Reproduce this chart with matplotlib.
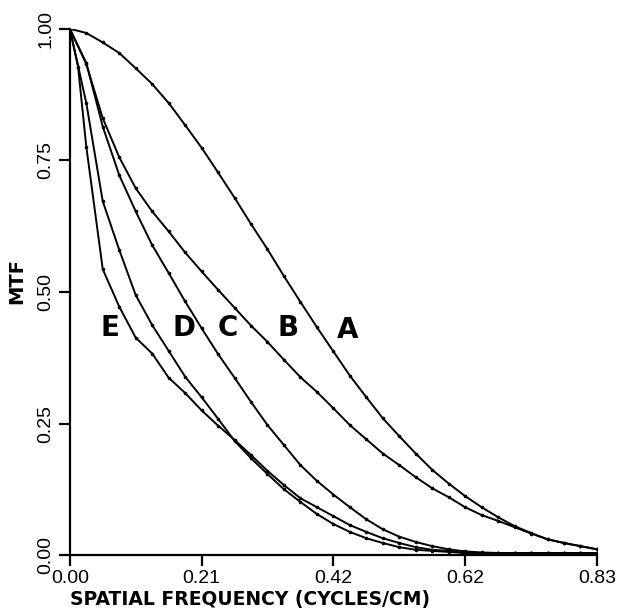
import numpy as np
import matplotlib
matplotlib.use("Agg")
import matplotlib.pyplot as plt

plt.rcParams['font.family'] = ['Liberation Sans Narrow', 'Liberation Sans', 'DejaVu Sans']

# spatial frequency grid (cycles/cm), 33 samples from 0 to 0.83
freq = np.linspace(0.0, 0.83, 33)
step = freq[1] - freq[0]
# curve E has an extra half-step sample near the origin
freq_e = np.concatenate(([0.0, 0.5 * step], freq[1:]))

mtf_a = [1.000, 0.992, 0.974, 0.954, 0.925, 0.895, 0.859, 0.817, 0.774, 0.727,
         0.679, 0.629, 0.581, 0.530, 0.481, 0.433, 0.387, 0.341, 0.300, 0.260,
         0.226, 0.193, 0.162, 0.136, 0.112, 0.091, 0.072, 0.055, 0.042, 0.030,
         0.023, 0.017, 0.011]
mtf_b = [1.000, 0.933, 0.830, 0.756, 0.697, 0.653, 0.615, 0.575, 0.539, 0.504,
         0.470, 0.436, 0.405, 0.371, 0.338, 0.310, 0.279, 0.247, 0.220, 0.193,
         0.171, 0.148, 0.127, 0.110, 0.091, 0.076, 0.065, 0.053, 0.041, 0.030,
         0.023, 0.017, 0.011]
mtf_c = [1.000, 0.935, 0.814, 0.722, 0.653, 0.589, 0.536, 0.482, 0.431, 0.382,
         0.337, 0.291, 0.247, 0.209, 0.171, 0.141, 0.115, 0.091, 0.068, 0.049,
         0.035, 0.025, 0.017, 0.011, 0.007, 0.005, 0.004, 0.004, 0.004, 0.004,
         0.004, 0.004, 0.004]
mtf_d = [1.000, 0.859, 0.672, 0.580, 0.494, 0.437, 0.388, 0.339, 0.300, 0.259,
         0.217, 0.184, 0.154, 0.125, 0.101, 0.078, 0.059, 0.044, 0.032, 0.023,
         0.015, 0.010, 0.008, 0.006, 0.004, 0.004, 0.004, 0.004, 0.004, 0.004,
         0.004, 0.004, 0.004]
mtf_e = [1.000, 0.928, 0.776, 0.543, 0.472, 0.413, 0.383, 0.337, 0.308, 0.275,
         0.246, 0.219, 0.190, 0.160, 0.133, 0.108, 0.091, 0.074, 0.057, 0.044,
         0.032, 0.023, 0.015, 0.010, 0.008, 0.004, 0.004, 0.004, 0.004, 0.004,
         0.004, 0.004, 0.004, 0.004]

curve_names = ['A', 'B', 'C', 'D', 'E']
label_x = [0.438, 0.343, 0.249, 0.180, 0.063]
label_y = [0.428, 0.432, 0.432, 0.432, 0.432]

xtick_vals = [0.0, 0.2075, 0.415, 0.6225, 0.83]
xtick_text = ['0.00', '0.21', '0.42', '0.62', '0.83']
ytick_vals = [0.0, 0.25, 0.5, 0.75, 1.0]
ytick_text = ['0.00', '0.25', '0.50', '0.75', '1.00']

fig = plt.figure(figsize=(6.29, 6.12), dpi=100)
ax = fig.add_axes([0.111, 0.093, 0.838, 0.860])

for x, y in [(freq, mtf_a), (freq, mtf_b), (freq, mtf_c), (freq, mtf_d), (freq_e, mtf_e)]:
    ax.plot(x, y, color='black', lw=1.4, marker='o', ms=1.6)

for name, lx, ly in zip(curve_names, label_x, label_y):
    ax.text(lx, ly, name, fontsize=20, fontweight='heavy', family='DejaVu Sans',
            ha='center', va='center')

ax.set_xlim(0, 0.83)
ax.set_ylim(0, 1.0)
ax.spines['top'].set_visible(False)
ax.spines['right'].set_visible(False)
ax.spines['left'].set_linewidth(1.6)
ax.spines['bottom'].set_linewidth(1.6)

ax.set_xticks(xtick_vals)
ax.set_xticklabels(xtick_text)
ax.set_yticks(ytick_vals)
ax.set_yticklabels(ytick_text, rotation=90, va='center')
ax.tick_params(direction='out', length=8, width=1.6, labelsize=14, pad=3)

ax.text(0.0, -0.085, 'SPATIAL FREQUENCY (CYCLES/CM)', transform=ax.transAxes,
        fontsize=13.5, fontweight='bold', family='DejaVu Sans',
        ha='left', va='center')
ax.text(-0.1, 0.52, 'MTF', transform=ax.transAxes, rotation=90,
        fontsize=14, fontweight='bold', family='DejaVu Sans',
        ha='center', va='center')

fig.savefig('out.png', dpi=100)
plt.close(fig)
